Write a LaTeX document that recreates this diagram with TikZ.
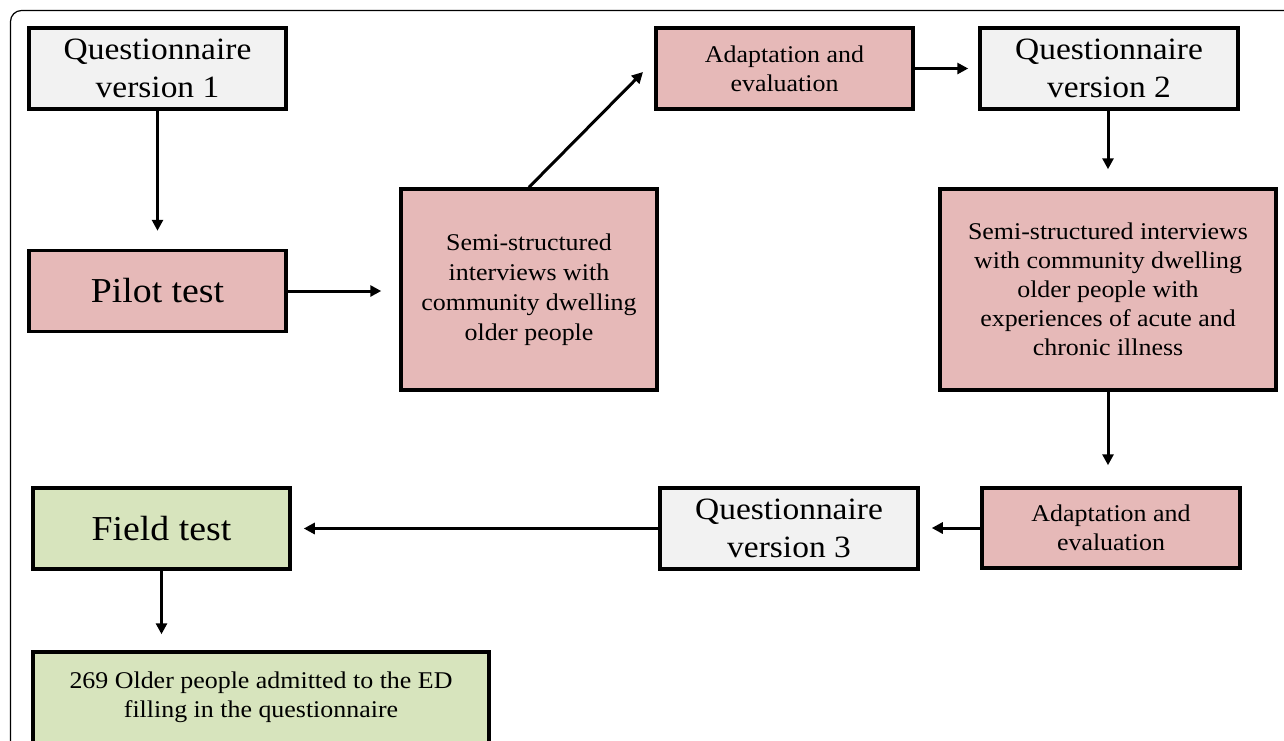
\documentclass[tikz,border=0pt]{standalone}
\usepackage{fontspec}
\setmainfont[FakeStretch=1.08]{Liberation Serif}
\usetikzlibrary{arrows.meta}
\definecolor{qgray}{HTML}{F2F2F2}
\definecolor{qpink}{HTML}{E6B9B8}
\definecolor{qgreen}{HTML}{D7E4BD}
\tikzset{
  box/.style={draw=black, line width=3.5pt, align=center, inner sep=0pt},
  qbox/.style={box, fill=qgray, minimum width=257pt, minimum height=81pt, font=\fontsize{31}{38}\selectfont},
  bigbox/.style={box, minimum width=257pt, minimum height=81pt, font=\fontsize{35}{40}\selectfont},
  abox/.style={box, fill=qpink, minimum width=257pt, minimum height=81pt, font=\fontsize{24}{29}\selectfont},
  sbox/.style={box, fill=qpink, minimum height=201pt, font=\fontsize{24}{30}\selectfont},
  arr/.style={line width=3pt, -{Triangle[length=11pt,width=11pt]}},
}
\begin{document}
\begin{tikzpicture}[x=1pt,y=-1pt]
\clip (0,0) rectangle (1284,740);
\draw[line width=1.2pt, rounded corners=11pt] (10.5,10.5) rectangle (1320,780);

\node[qbox] (q1) at (157.5,68.5) {Questionnaire\\version 1};
\node[bigbox, fill=qpink] (pilot) at (157.5,291) {Pilot test};
\node[sbox, minimum width=256pt] (semi1) at (529,289.5) {Semi-structured\\interviews with\\community dwelling\\older people};
\node[abox] (ad1) at (784.5,68.5) {Adaptation and\\evaluation};
\node[qbox, minimum width=258pt] (q2) at (1109,68.5) {Questionnaire\\version 2};
\node[sbox, minimum width=336pt, font=\fontsize{24}{29}\selectfont] (semi2) at (1108,289.5) {Semi-structured interviews\\with community dwelling\\older people with\\experiences of acute and\\chronic illness};
\node[abox, minimum width=258pt, minimum height=80pt] (ad2) at (1111,528) {Adaptation and\\evaluation};
\node[qbox, minimum width=258pt] (q3) at (789,528.5) {Questionnaire\\version 3};
\node[bigbox, fill=qgreen] (field) at (161.5,528.5) {Field test};
\node[box, fill=qgreen, minimum width=456pt, minimum height=91pt, font=\fontsize{24}{29}\selectfont] (older) at (261,697.5) {269 Older people admitted to the ED\\filling in the questionnaire};

\coordinate (t1) at (643,72);
\draw[arr, shorten >=18pt] (q1.south) -- (pilot.north);
\draw[arr, shorten >=18pt] (pilot.east) -- (pilot.east -| semi1.west);
\draw[arr] (semi1.north) -- (t1);
\draw[arr, shorten >=10pt] (ad1.east) -- (ad1.east -| q2.west);
\draw[arr, shorten >=18pt] (semi2.north |- q2.south) -- (semi2.north);
\draw[arr, shorten >=21pt] (semi2.south) -- (semi2.south |- ad2.north);
\draw[arr, shorten >=12pt] (ad2.west) -- (ad2.west -| q3.east);
\draw[arr, shorten >=12pt] (q3.west) -- (q3.west -| field.east);
\draw[arr, shorten >=16pt] (field.south) -- (field.south |- older.north);
\end{tikzpicture}
\end{document}
